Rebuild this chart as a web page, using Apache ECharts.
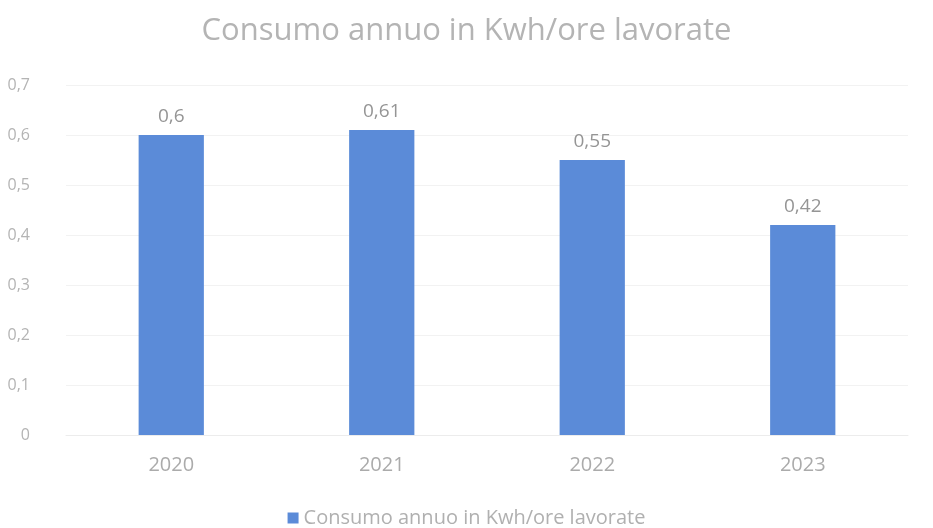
<!doctype html>
<html>
<head>
    <meta charset="UTF-8">
    <script src="https://cdn.jsdelivr.net/npm/echarts@6/dist/echarts.min.js"></script>
    <style>
        html, body { margin: 0; padding: 0; background: #fff; }
        #chart { width: 933px; height: 528px; }
    </style>
</head>
<body>
<div id="chart"></div>
<script type="text/javascript">
    // dati
    var anni = ['2020', '2021', '2022', '2023'];
    var consumo = [0.6, 0.61, 0.55, 0.42];
    var nomeSerie = 'Consumo annuo in Kwh/ore lavorate';

    function virgola(v) {
        return String(v).replace('.', ',');
    }

    var myChart = echarts.init(document.getElementById('chart'));
    var option = {
        animation: false,
        textStyle: { fontFamily: 'Open Sans' },
        title: {
            text: nomeSerie,
            left: 'center',
            top: 11,
            textStyle: { color: '#b4b4b4', fontSize: 31, fontWeight: 'normal', fontFamily: 'Open Sans' }
        },
        legend: {
            bottom: -5,
            left: 'center',
            icon: 'rect',
            itemWidth: 11,
            itemHeight: 11,
            itemGap: 7,
            textStyle: { color: '#b0b0b0', fontSize: 20 },
            data: [nomeSerie]
        },
        grid: {
            left: 66,
            right: 25,
            top: 85,
            bottom: 93
        },
        xAxis: {
            type: 'category',
            data: anni,
            axisLine: { show: true, lineStyle: { color: '#ececec' } },
            axisTick: { show: false },
            axisLabel: { color: '#ababab', fontSize: 20, margin: 20 }
        },
        yAxis: {
            type: 'value',
            min: 0,
            max: 0.7,
            interval: 0.1,
            axisLine: { show: false },
            axisTick: { show: false },
            splitLine: { lineStyle: { color: '#f2f2f2' } },
            axisLabel: {
                color: '#b4b4b4',
                fontSize: 16,
                margin: 36,
                formatter: function (v) { return virgola(Math.round(v * 10) / 10); }
            }
        },
        series: [{
            name: nomeSerie,
            type: 'bar',
            data: consumo,
            barWidth: '31%',
            itemStyle: { color: '#5b8bd8' },
            label: {
                show: true,
                position: 'top',
                distance: 9,
                color: '#959595',
                fontSize: 19,
                formatter: function (p) { return virgola(p.value); }
            }
        }]
    };
    myChart.setOption(option);
</script>
</body>
</html>
